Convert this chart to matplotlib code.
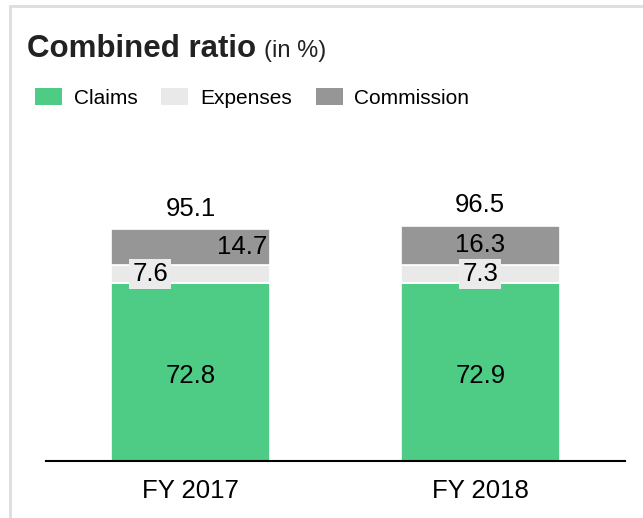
import matplotlib.pyplot as plt
from matplotlib.patches import Patch, Rectangle

OUTPUT_PATH = "out.png"

years = ["FY 2017", "FY 2018"]
claims = [72.8, 72.9]
expenses = [7.6, 7.3]
commission = [14.7, 16.3]
totals = [95.1, 96.5]

CLAIMS_COLOR = "#4ecb85"
EXPENSES_COLOR = "#e9e9e9"
COMMISSION_COLOR = "#969696"

# horizontal nudges of the segment labels (in category units)
expense_label_dx = [-0.14, 0.0]
commission_label_dx = [0.178, 0.0]


def main():
    plt.rcParams["font.family"] = ["Liberation Sans", "DejaVu Sans"]

    fig = plt.figure(figsize=(6.43, 5.18), dpi=100)
    fig.patches.append(Rectangle((10 / 643, -0.1), 1.2, 1 - 6 / 518 + 0.1,
                                 transform=fig.transFigure, fill=False,
                                 edgecolor="#dddddd", linewidth=2))

    ax = fig.add_axes([46 / 643, 1 - 461 / 518, 579 / 643, 110 * 2.44 / 518])
    x = list(range(len(years)))
    w = 0.55

    bottoms2 = [c + e for c, e in zip(claims, expenses)]
    ax.bar(x, claims, width=w, color=CLAIMS_COLOR, edgecolor="white", linewidth=1.2)
    ax.bar(x, expenses, width=w, bottom=claims, color=EXPENSES_COLOR,
           edgecolor="white", linewidth=1.2)
    ax.bar(x, commission, width=w, bottom=bottoms2, color=COMMISSION_COLOR,
           edgecolor="white", linewidth=1.2)

    fs = 18.5
    for i in x:
        ax.text(i, claims[i] / 2 - 1.5, f"{claims[i]:.1f}", ha="center", va="center", fontsize=fs)
        ax.text(i + expense_label_dx[i], claims[i] + expenses[i] / 2, f"{expenses[i]:.1f}",
                ha="center", va="center", fontsize=fs,
                bbox=dict(boxstyle="square,pad=0.12", facecolor="#ebebeb", edgecolor="none"))
        ax.text(i + commission_label_dx[i], bottoms2[i] + commission[i] / 2,
                f"{commission[i]:.1f}", ha="center", va="center", fontsize=fs)
        ax.annotate(f"{totals[i]:.1f}", (i, totals[i]), xytext=(0, 6),
                    textcoords="offset points", ha="center", va="bottom", fontsize=fs)

    ax.set_xlim(-0.5, 1.5)
    ax.set_ylim(0, 110)
    ax.set_xticks(x)
    ax.set_xticklabels(years, fontsize=fs)
    ax.tick_params(axis="x", length=0, pad=13)
    ax.set_yticks([])
    for s in ["top", "right", "left"]:
        ax.spines[s].set_visible(False)
    ax.spines["bottom"].set_linewidth(1.5)
    ax.spines["bottom"].set_color("black")

    t = fig.text(27 / 643, 1 - 57 / 518, "Combined ratio", fontsize=22.5,
                 fontweight="bold", color="#222222", va="baseline")
    fig.canvas.draw()
    bb = t.get_window_extent()
    fig.text((bb.x1 + 8) / 643, 1 - 57 / 518, "(in %)", fontsize=17,
             color="#222222", va="baseline")

    handles = [Patch(facecolor=CLAIMS_COLOR, label="Claims"),
               Patch(facecolor=EXPENSES_COLOR, label="Expenses"),
               Patch(facecolor=COMMISSION_COLOR, label="Commission")]
    fig.legend(handles=handles, loc="center left", bbox_to_anchor=(35 / 643, 1 - 98 / 518),
               ncol=3, frameon=False, fontsize=15, borderpad=0, borderaxespad=0,
               handlelength=1.3, handleheight=0.85, handletextpad=0.55,
               columnspacing=1.15)

    fig.savefig(OUTPUT_PATH, dpi=100)
    plt.close(fig)


if __name__ == "__main__":
    main()
